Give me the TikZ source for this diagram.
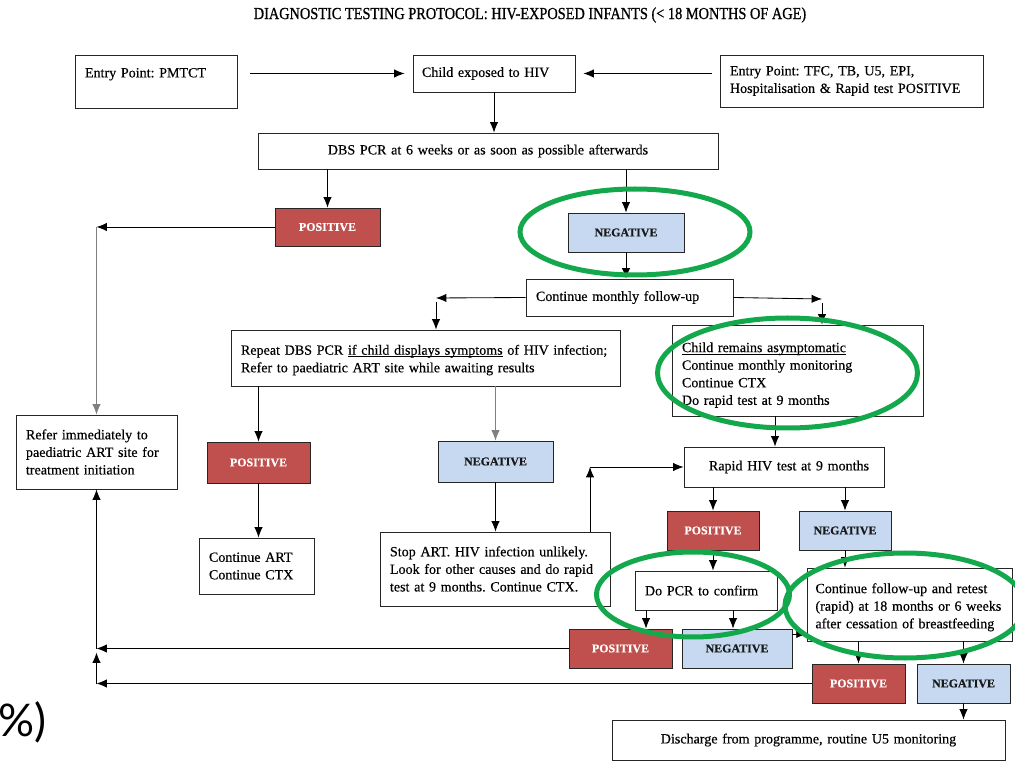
\documentclass[tikz,border=0pt]{standalone}
\usepackage{fontspec}
\setmainfont{Liberation Serif}[FakeBold=0.35]
\newfontfamily\titlefont[FakeStretch=0.85, FakeBold=0.8]{Liberation Serif}
\newfontfamily\slidefont{Lato}
\usetikzlibrary{shapes,arrows,arrows.meta,calc}
\definecolor{posred}{RGB}{192,80,77}
\definecolor{negblue}{RGB}{198,217,241}
\definecolor{ringgreen}{RGB}{20,168,76}
\newcommand{\undl}[1]{\underline{\smash{#1}}}
\frenchspacing
\tikzstyle{block} = [rectangle, draw=black!85, semithick, fill=white,
    inner xsep=2.5mm, inner ysep=0pt, align=left, font=\fontsize{10}{12.5}\selectfont]
\tikzstyle{result} = [rectangle, draw=black!85, semithick, inner sep=0pt,
    font=\fontsize{8.5}{10}\selectfont\bfseries]
\tikzstyle{posbox} = [result, fill=posred, text=white]
\tikzstyle{negbox} = [result, fill=negblue, text=black!90]
\tikzstyle{line} = [draw, semithick, -{Latex[length=2.6mm, width=2.1mm]}]
\tikzstyle{greyline} = [line, draw=black!50]
\tikzstyle{ring} = [draw=ringgreen, line width=1.25mm]

\begin{document}
\begin{tikzpicture}[x=0.025cm, y=-0.025cm, auto]
    \useasboundingbox (0,0) rectangle (1015,761);
    % Title
    \node (title) at (530,15) {\titlefont\fontsize{12}{14}\selectfont DIAGNOSTIC TESTING PROTOCOL: HIV-EXPOSED INFANTS (< 18 MONTHS OF AGE)};
    % Place nodes
    \node [block, text width=35.5mm, minimum height=13.25mm] (entA) at (156,81.5) {Entry Point: PMTCT\\\mbox{}};
    \node [block, text width=36mm, inner xsep=2.25mm, minimum height=9.25mm] (child) at (494,73.5) {Child exposed to HIV};
    \node [block, text width=60.75mm, minimum height=13mm] (entB) at (851.5,81) {Entry Point: TFC, TB, U5, EPI,\\Hospitalisation \& Rapid test POSITIVE};
    \node [block, align=center, text width=110mm, minimum height=9mm] (dbs) at (488,151) {DBS PCR at 6 weeks or as soon as possible afterwards};
    \node [posbox, minimum width=26.25mm, minimum height=9.5mm] (posA) at (327.5,227) {POSITIVE};
    \node [negbox, minimum width=29mm, minimum height=9.75mm] (negA) at (626,232.5) {NEGATIVE};
    \node [block, text width=46.75mm, minimum height=9.25mm] (follow) at (629.5,297.5) {Continue monthly follow-up};
    \node [block, text width=92.25mm, minimum height=14mm] (repeat) at (425.5,358) {\rule{0pt}{10pt}Repeat DBS PCR \undl{if child displays symptoms} of HIV infection;\\Refer to paediatric ART site while awaiting results};
    \node [block, text width=57.75mm, minimum height=22.75mm] (asym) at (797.5,370.5) {\rule{0pt}{13.5pt}\undl{Child remains asymptomatic}\\Continue monthly monitoring\\Continue CTX\\Do rapid test at 9 months};
    \node [block, text width=35.25mm, minimum height=18.5mm] (refer) at (96.5,452) {Refer immediately to\\paediatric ART site for\\treatment initiation};
    \node [posbox, minimum width=25.75mm, minimum height=10.25mm] (posB) at (258.5,462.5) {POSITIVE};
    \node [negbox, minimum width=28.75mm, minimum height=10.25mm] (negB) at (495.5,461.5) {NEGATIVE};
    \node [block, align=center, text width=45mm, minimum height=10mm] (rapid) at (784,467) {\hspace*{2.5mm}Rapid HIV test at 9 months};
    \node [block, text width=23.75mm, minimum height=14mm] (contart) at (256.5,566) {Continue ART\\Continue CTX};
    \node [block, text width=52.5mm, minimum height=18.5mm] (stop) at (495,569) {Stop ART. HIV infection unlikely.\\Look for other causes and do rapid\\test at 9 months. Continue CTX.};
    \node [posbox, minimum width=23mm, minimum height=9.75mm] (posC) at (713,530.5) {POSITIVE};
    \node [negbox, minimum width=23mm, minimum height=9.75mm] (negC) at (845,530.5) {NEGATIVE};
    \node [block, text width=30.5mm, minimum height=9.75mm] (pcr) at (706,590.5) {Do PCR to confirm};
    \node [block, text width=47mm, inner xsep=2.1mm, minimum height=18.25mm] (cont) at (909.5,604.5) {\rule{0pt}{11pt}Continue follow-up and retest\\(rapid) at 18 months or 6 weeks\\after cessation of breastfeeding};
    \node [posbox, minimum width=25.75mm, minimum height=9.75mm] (posD) at (620.5,648.5) {POSITIVE};
    \node [negbox, minimum width=27.5mm, minimum height=9.75mm] (negD) at (737,648.5) {NEGATIVE};
    \node [posbox, minimum width=23.25mm, minimum height=9.75mm] (posE) at (858.5,683.5) {POSITIVE};
    \node [negbox, minimum width=23.25mm, minimum height=9.75mm] (negE) at (963.5,683.5) {NEGATIVE};
    \node [block, align=center, text width=93.25mm, minimum height=10mm] (disc) at (808.5,740) {Discharge from programme, routine U5 monitoring};
    \node [anchor=west, inner sep=0pt, font=\slidefont\fontsize{32}{32}\selectfont] (pct) at (-2,722) {\%)};
    % Corners
    \coordinate (fl) at (436,298);
    \coordinate (fr) at (822,299);
    \coordinate (sr) at (590,467);
    \coordinate (ar) at ($(rapid.north)+(-9,0)$);
    \coordinate (pl) at ($(pcr.south)+(-60,0)$);
    \coordinate (pr) at ($(pcr.south)+(27,0)$);
    \coordinate (nd) at ($(negD.east)+(0,-14.5)$);
    % Draw edges
    \path [line, shorten <=3.25mm, shorten >=2mm] (entA.east |- child) -- (child.west);
    \path [line, shorten <=2mm, shorten >=2mm] (entB.west |- child) -- (child.east);
    \path [line] (child.south) -- (child.south |- dbs.north);
    \path [line] (posA.north |- dbs.south) -- (posA.north);
    \path [line] (negA.north |- dbs.south) -- (negA.north);
    \path [line] (posA.west) -- (refer.north |- posA.west);
    \path [greyline] (refer.north |- posA.west) -- (refer.north);
    \path [line] (negA.south) -- (negA.south |- follow.north);
    \path [line] (follow.west) -- (fl);
    \path [line, shorten <=1mm] (fl) -- (fl |- repeat.north);
    \path [line] (follow.east) -- (fr);
    \path [line, shorten <=1mm] (fr) -- (fr |- asym.north);
    \path [line] (posB.north |- repeat.south) -- (posB.north);
    \path [greyline] (negB.north |- repeat.south) -- (negB.north);
    \path [line] (posB.south) -- (posB.south |- contart.north);
    \path [line] (negB.south) -- (negB.south |- stop.north);
    \path [line] (ar |- asym.south) -- (ar);
    \path [line] (stop.north -| sr) -- (sr);
    \path [line] (sr) -- (rapid.west);
    \path [line] (posC.north |- rapid.south) -- (posC.north);
    \path [line] (negC.north |- rapid.south) -- (negC.north);
    \path [line] (posC.south) -- (posC.south |- pcr.north);
    \path [line] (negC.south) -- (negC.south |- cont.north);
    \path [line] (pl) -- (pl |- posD.north);
    \path [line] (pr) -- (pr |- negD.north);
    \path [line] (nd) -- (nd -| cont.west);
    \path [line] (posD.west) -- (refer.south |- posD.west);
    \path [line] (posE.west) -- (refer.south |- posE.west);
    \path [line, shorten >=1mm] (refer.south |- posE.west) -- (refer.south |- posD.west);
    \path [line] (refer.south |- posD.west) -- (refer.south);
    \path [line] (posE.north |- cont.south) -- (posE.north);
    \path [line] (negE.north |- cont.south) -- (negE.north);
    \path [line] (negE.south) -- (negE.south |- disc.north);
    % Highlight rings
    \draw [ring] (635,232) ellipse [x radius=115, y radius=43];
    \draw [ring] (787.5,373) ellipse [x radius=130, y radius=55];
    \draw [ring] (693,594.5) ellipse [x radius=96.5, y radius=42.5];
    \draw [ring] (905,605.5) ellipse [x radius=120, y radius=52.5];
\end{tikzpicture}
\end{document}
